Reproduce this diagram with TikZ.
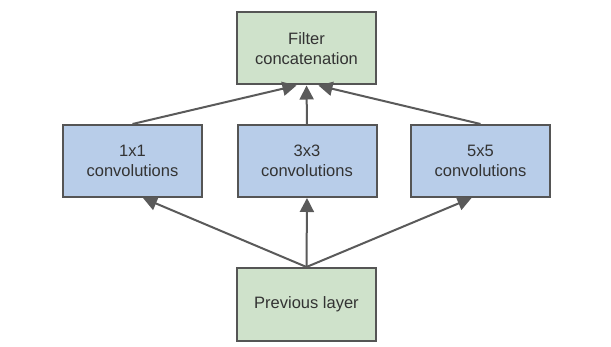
\documentclass[tikz,border=0pt]{standalone}
\usepackage{fontspec}
\setmainfont{Liberation Sans}
\usetikzlibrary{arrows.meta,calc}
\definecolor{boxgreen}{HTML}{CFE2CB}
\definecolor{boxblue}{HTML}{B8CDE9}
\definecolor{edge}{HTML}{555555}
\definecolor{arrowc}{HTML}{5A5A5A}
\begin{document}
\begin{tikzpicture}[x=1pt,y=1pt,
  box/.style={draw=edge, line width=2pt, minimum width=139pt, minimum height=72pt,
    align=center, font=\fontsize{16.5}{20}\selectfont, text=black!80, inner sep=0pt},
  gbox/.style={box, fill=boxgreen},
  bbox/.style={box, fill=boxblue},
  conn/.style={draw=arrowc, line width=2pt, -{Triangle[length=14pt,width=14pt]}}
]
\useasboundingbox[fill=white] (0,0) rectangle (611,346);
\node[gbox] (filt) at (306.5,297.5) {Filter\\concatenation};
\node[bbox] (c1) at (132.5,185) {1x1\\convolutions};
\node[bbox] (c3) at (307,185) {3x3\\convolutions};
\node[bbox] (c5) at (480.5,185) {5x5\\convolutions};
\node[gbox, minimum height=73pt] (prev) at (306.5,41.5) {Previous layer};
\draw[conn] (prev.north) -- ($(c1.south)+(10.5,0)$);
\draw[conn] (prev.north) -- (c3.south);
\draw[conn] (prev.north) -- ($(c5.south)+(-9,0)$);
\draw[conn] (c1.north) -- ($(filt.south)+(-10,0)$);
\draw[conn] (c3.north) -- (filt.south);
\draw[conn] (c5.north) -- ($(filt.south)+(12,0)$);
\end{tikzpicture}
\end{document}
